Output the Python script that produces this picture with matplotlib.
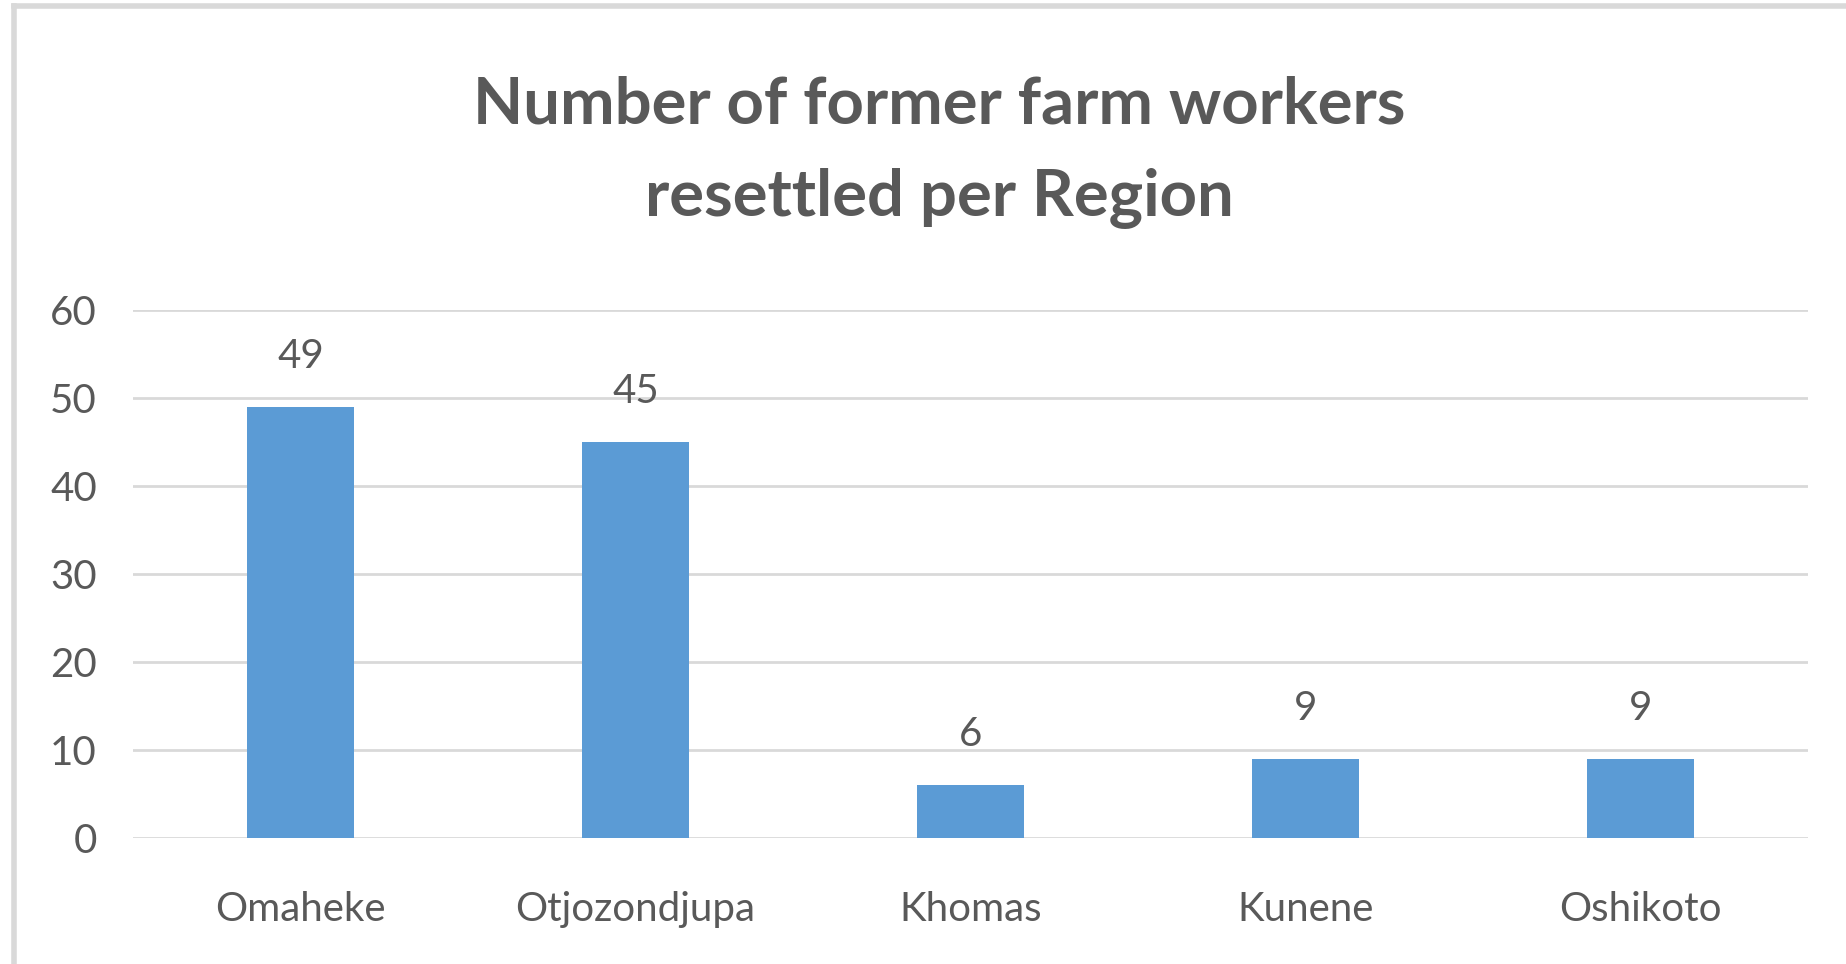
import matplotlib.pyplot as plt
from matplotlib.lines import Line2D

regions = ['Omaheke', 'Otjozondjupa', 'Khomas', 'Kunene', 'Oshikoto']
workers = [49, 45, 6, 9, 9]
yticks = [0, 10, 20, 30, 40, 50, 60]

title = 'Number of former farm workers\nresettled per Region'

text_col = '#595959'
grid_col = '#d9d9d9'
bar_col = '#5b9bd5'

plt.rcParams['font.family'] = ['Lato', 'DejaVu Sans']

def main():
    fig = plt.figure(figsize=(18.46, 9.64), dpi=100)
    ax = fig.add_axes([0.072, 0.1307, 0.9074, 0.5477])

    x = range(len(regions))
    bars = ax.bar(x, workers, width=0.32, color=bar_col, zorder=3)

    ax.set_xlim(-0.5, len(regions) - 0.5)
    ax.set_ylim(0, 60)
    ax.set_yticks(yticks)
    ax.set_xticks(list(x))
    ax.set_xticklabels(regions)

    ax.yaxis.grid(True, color=grid_col, linewidth=2)
    ax.set_axisbelow(True)
    for s in ax.spines.values():
        s.set_visible(False)
    ax.tick_params(axis='both', length=0, labelcolor=text_col, labelsize=29)
    ax.tick_params(axis='y', pad=26)
    ax.tick_params(axis='x', pad=38)

    # value labels
    for b, v in zip(bars, workers):
        ax.annotate(str(v), (b.get_x() + b.get_width() / 2, v),
                    xytext=(0, 23), textcoords='offset points',
                    ha='center', va='bottom', fontsize=29, color=text_col)

    fig.text(0.5087, 0.842, title, ha='center', va='center',
             fontsize=47, fontweight='bold', color=text_col,
             linespacing=1.68)

    # chart border (only top and left visible)
    fig.add_artist(Line2D([0.0075, 1.0], [0.9935, 0.9935], color=grid_col,
                          linewidth=4, transform=fig.transFigure))
    fig.add_artist(Line2D([0.0075, 0.0075], [0.0, 0.9935], color=grid_col,
                          linewidth=4, transform=fig.transFigure))

    fig.savefig('out.png', dpi=100, facecolor='white')


if __name__ == "__main__":
    main()
